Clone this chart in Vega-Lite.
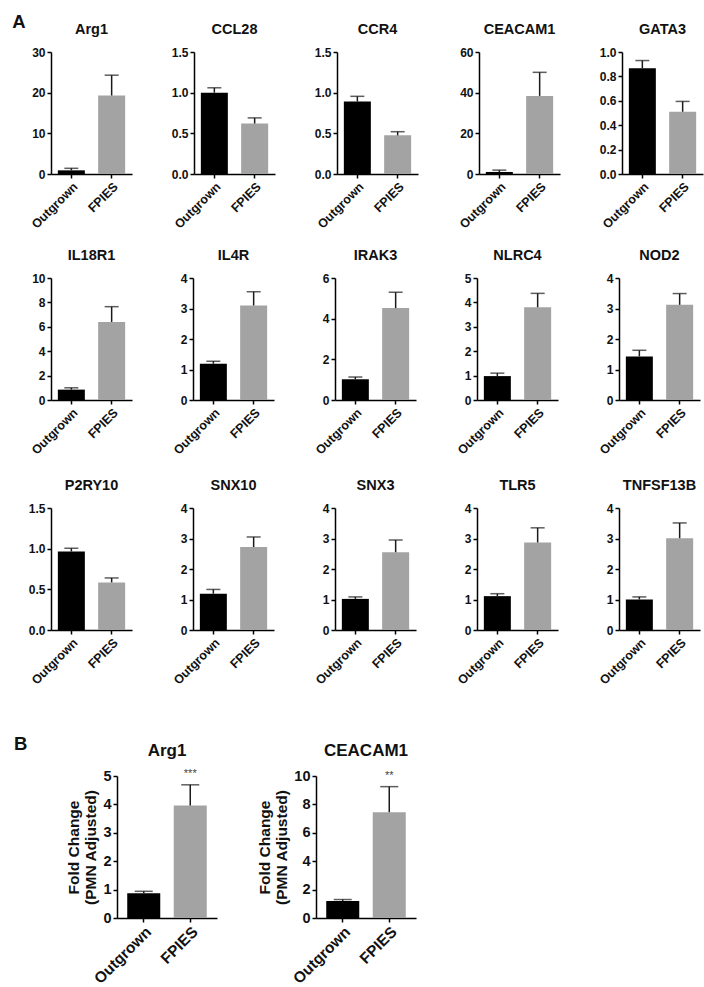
{
"$schema": "https://vega.github.io/schema/vega-lite/v6.json",
"padding": {"left": 12, "top": 13, "right": 5, "bottom": 5},
"background": "white",
"data": {"values": [
{"set":"A","gene":"Arg1","group":"Outgrown","mean":0.9,"upper":1.4},
{"set":"A","gene":"Arg1","group":"FPIES","mean":19.3,"upper":24.3},
{"set":"A","gene":"CCL28","group":"Outgrown","mean":1.0,"upper":1.06},
{"set":"A","gene":"CCL28","group":"FPIES","mean":0.62,"upper":0.69},
{"set":"A","gene":"CCR4","group":"Outgrown","mean":0.89,"upper":0.955},
{"set":"A","gene":"CCR4","group":"FPIES","mean":0.475,"upper":0.52},
{"set":"A","gene":"CEACAM1","group":"Outgrown","mean":1.0,"upper":1.9},
{"set":"A","gene":"CEACAM1","group":"FPIES","mean":38.4,"upper":50},
{"set":"A","gene":"GATA3","group":"Outgrown","mean":0.866,"upper":0.93},
{"set":"A","gene":"GATA3","group":"FPIES","mean":0.51,"upper":0.595},
{"set":"A","gene":"IL18R1","group":"Outgrown","mean":0.85,"upper":1.0},
{"set":"A","gene":"IL18R1","group":"FPIES","mean":6.4,"upper":7.65},
{"set":"A","gene":"IL4R","group":"Outgrown","mean":1.19,"upper":1.27},
{"set":"A","gene":"IL4R","group":"FPIES","mean":3.1,"upper":3.55},
{"set":"A","gene":"IRAK3","group":"Outgrown","mean":1.02,"upper":1.13},
{"set":"A","gene":"IRAK3","group":"FPIES","mean":4.52,"upper":5.3},
{"set":"A","gene":"NLRC4","group":"Outgrown","mean":0.98,"upper":1.1},
{"set":"A","gene":"NLRC4","group":"FPIES","mean":3.8,"upper":4.37},
{"set":"A","gene":"NOD2","group":"Outgrown","mean":1.43,"upper":1.63},
{"set":"A","gene":"NOD2","group":"FPIES","mean":3.12,"upper":3.49},
{"set":"A","gene":"P2RY10","group":"Outgrown","mean":0.965,"upper":1.005},
{"set":"A","gene":"P2RY10","group":"FPIES","mean":0.585,"upper":0.64},
{"set":"A","gene":"SNX10","group":"Outgrown","mean":1.19,"upper":1.33},
{"set":"A","gene":"SNX10","group":"FPIES","mean":2.72,"upper":3.05},
{"set":"A","gene":"SNX3","group":"Outgrown","mean":1.02,"upper":1.085},
{"set":"A","gene":"SNX3","group":"FPIES","mean":2.55,"upper":2.95},
{"set":"A","gene":"TLR5","group":"Outgrown","mean":1.11,"upper":1.19},
{"set":"A","gene":"TLR5","group":"FPIES","mean":2.87,"upper":3.35},
{"set":"A","gene":"TNFSF13B","group":"Outgrown","mean":1.0,"upper":1.085},
{"set":"A","gene":"TNFSF13B","group":"FPIES","mean":3.01,"upper":3.51},
{"set":"B","gene":"Arg1","group":"Outgrown","mean":0.87,"upper":0.94,"sig":""},
{"set":"B","gene":"Arg1","group":"FPIES","mean":3.96,"upper":4.69,"sig":"***"},
{"set":"B","gene":"CEACAM1","group":"Outgrown","mean":1.2,"upper":1.3,"sig":""},
{"set":"B","gene":"CEACAM1","group":"FPIES","mean":7.45,"upper":9.25,"sig":"**"}
]},
"spacing": 48,
"vconcat": [
{
"title": {"text": "A", "anchor": "start", "fontSize": 18.5, "dx": -16, "offset": -10},
"spacing": 20,
"vconcat": [
{"spacing": 16, "vconcat": [
{"spacing": 39, "hconcat": [
{"title":"Arg1","width":81,"height":122,"transform":[{"filter":"datum.set==='A' && datum.gene==='Arg1'"}],
"encoding":{"x":{"field":"group","type":"nominal","sort":["Outgrown","FPIES"],"title":null,"scale":{"paddingInner":0.33,"paddingOuter":0.17}}},
"layer":[
{"mark":{"type":"bar"},"encoding":{"y":{"field":"mean","type":"quantitative","title":null,"scale":{"domain":[0,30],"nice":false},"axis":{"values":[0,10,20,30],"tickCount":20,"format":"d","labelOverlap":false}},"color":{"field":"group","type":"nominal","scale":{"domain":["Outgrown","FPIES"],"range":["#000000","#a3a3a3"]},"legend":null}}},
{"mark":{"type":"rule","color":"#1a1a1a","strokeWidth":1.5},"encoding":{"y":{"field":"mean","type":"quantitative","title":null},"y2":{"field":"upper"}}},
{"mark":{"type":"tick","color":"#1a1a1a","thickness":1.5,"size":14},"encoding":{"y":{"field":"upper","type":"quantitative","title":null}}}]},
{"title":"CCL28","width":81,"height":122,"transform":[{"filter":"datum.set==='A' && datum.gene==='CCL28'"}],
"encoding":{"x":{"field":"group","type":"nominal","sort":["Outgrown","FPIES"],"title":null,"scale":{"paddingInner":0.33,"paddingOuter":0.17}}},
"layer":[
{"mark":{"type":"bar"},"encoding":{"y":{"field":"mean","type":"quantitative","title":null,"scale":{"domain":[0,1.5],"nice":false},"axis":{"values":[0,0.5,1,1.5],"tickCount":20,"format":".1f","labelOverlap":false}},"color":{"field":"group","type":"nominal","scale":{"domain":["Outgrown","FPIES"],"range":["#000000","#a3a3a3"]},"legend":null}}},
{"mark":{"type":"rule","color":"#1a1a1a","strokeWidth":1.5},"encoding":{"y":{"field":"mean","type":"quantitative","title":null},"y2":{"field":"upper"}}},
{"mark":{"type":"tick","color":"#1a1a1a","thickness":1.5,"size":14},"encoding":{"y":{"field":"upper","type":"quantitative","title":null}}}]},
{"title":"CCR4","width":81,"height":122,"transform":[{"filter":"datum.set==='A' && datum.gene==='CCR4'"}],
"encoding":{"x":{"field":"group","type":"nominal","sort":["Outgrown","FPIES"],"title":null,"scale":{"paddingInner":0.33,"paddingOuter":0.17}}},
"layer":[
{"mark":{"type":"bar"},"encoding":{"y":{"field":"mean","type":"quantitative","title":null,"scale":{"domain":[0,1.5],"nice":false},"axis":{"values":[0,0.5,1,1.5],"tickCount":20,"format":".1f","labelOverlap":false}},"color":{"field":"group","type":"nominal","scale":{"domain":["Outgrown","FPIES"],"range":["#000000","#a3a3a3"]},"legend":null}}},
{"mark":{"type":"rule","color":"#1a1a1a","strokeWidth":1.5},"encoding":{"y":{"field":"mean","type":"quantitative","title":null},"y2":{"field":"upper"}}},
{"mark":{"type":"tick","color":"#1a1a1a","thickness":1.5,"size":14},"encoding":{"y":{"field":"upper","type":"quantitative","title":null}}}]},
{"title":"CEACAM1","width":81,"height":122,"transform":[{"filter":"datum.set==='A' && datum.gene==='CEACAM1'"}],
"encoding":{"x":{"field":"group","type":"nominal","sort":["Outgrown","FPIES"],"title":null,"scale":{"paddingInner":0.33,"paddingOuter":0.17}}},
"layer":[
{"mark":{"type":"bar"},"encoding":{"y":{"field":"mean","type":"quantitative","title":null,"scale":{"domain":[0,60],"nice":false},"axis":{"values":[0,20,40,60],"tickCount":20,"format":"d","labelOverlap":false}},"color":{"field":"group","type":"nominal","scale":{"domain":["Outgrown","FPIES"],"range":["#000000","#a3a3a3"]},"legend":null}}},
{"mark":{"type":"rule","color":"#1a1a1a","strokeWidth":1.5},"encoding":{"y":{"field":"mean","type":"quantitative","title":null},"y2":{"field":"upper"}}},
{"mark":{"type":"tick","color":"#1a1a1a","thickness":1.5,"size":14},"encoding":{"y":{"field":"upper","type":"quantitative","title":null}}}]},
{"title":"GATA3","width":81,"height":122,"transform":[{"filter":"datum.set==='A' && datum.gene==='GATA3'"}],
"encoding":{"x":{"field":"group","type":"nominal","sort":["Outgrown","FPIES"],"title":null,"scale":{"paddingInner":0.33,"paddingOuter":0.17}}},
"layer":[
{"mark":{"type":"bar"},"encoding":{"y":{"field":"mean","type":"quantitative","title":null,"scale":{"domain":[0,1],"nice":false},"axis":{"values":[0,0.2,0.4,0.6,0.8,1],"tickCount":20,"format":".1f","labelOverlap":false}},"color":{"field":"group","type":"nominal","scale":{"domain":["Outgrown","FPIES"],"range":["#000000","#a3a3a3"]},"legend":null}}},
{"mark":{"type":"rule","color":"#1a1a1a","strokeWidth":1.5},"encoding":{"y":{"field":"mean","type":"quantitative","title":null},"y2":{"field":"upper"}}},
{"mark":{"type":"tick","color":"#1a1a1a","thickness":1.5,"size":14},"encoding":{"y":{"field":"upper","type":"quantitative","title":null}}}]}
]},
{"spacing": 39, "hconcat": [
{"title":"IL18R1","width":81,"height":122,"transform":[{"filter":"datum.set==='A' && datum.gene==='IL18R1'"}],
"encoding":{"x":{"field":"group","type":"nominal","sort":["Outgrown","FPIES"],"title":null,"scale":{"paddingInner":0.33,"paddingOuter":0.17}}},
"layer":[
{"mark":{"type":"bar"},"encoding":{"y":{"field":"mean","type":"quantitative","title":null,"scale":{"domain":[0,10],"nice":false},"axis":{"values":[0,2,4,6,8,10],"tickCount":20,"format":"d","labelOverlap":false}},"color":{"field":"group","type":"nominal","scale":{"domain":["Outgrown","FPIES"],"range":["#000000","#a3a3a3"]},"legend":null}}},
{"mark":{"type":"rule","color":"#1a1a1a","strokeWidth":1.5},"encoding":{"y":{"field":"mean","type":"quantitative","title":null},"y2":{"field":"upper"}}},
{"mark":{"type":"tick","color":"#1a1a1a","thickness":1.5,"size":14},"encoding":{"y":{"field":"upper","type":"quantitative","title":null}}}]},
{"title":"IL4R","width":81,"height":122,"transform":[{"filter":"datum.set==='A' && datum.gene==='IL4R'"}],
"encoding":{"x":{"field":"group","type":"nominal","sort":["Outgrown","FPIES"],"title":null,"scale":{"paddingInner":0.33,"paddingOuter":0.17}}},
"layer":[
{"mark":{"type":"bar"},"encoding":{"y":{"field":"mean","type":"quantitative","title":null,"scale":{"domain":[0,4],"nice":false},"axis":{"values":[0,1,2,3,4],"tickCount":20,"format":"d","labelOverlap":false}},"color":{"field":"group","type":"nominal","scale":{"domain":["Outgrown","FPIES"],"range":["#000000","#a3a3a3"]},"legend":null}}},
{"mark":{"type":"rule","color":"#1a1a1a","strokeWidth":1.5},"encoding":{"y":{"field":"mean","type":"quantitative","title":null},"y2":{"field":"upper"}}},
{"mark":{"type":"tick","color":"#1a1a1a","thickness":1.5,"size":14},"encoding":{"y":{"field":"upper","type":"quantitative","title":null}}}]},
{"title":"IRAK3","width":81,"height":122,"transform":[{"filter":"datum.set==='A' && datum.gene==='IRAK3'"}],
"encoding":{"x":{"field":"group","type":"nominal","sort":["Outgrown","FPIES"],"title":null,"scale":{"paddingInner":0.33,"paddingOuter":0.17}}},
"layer":[
{"mark":{"type":"bar"},"encoding":{"y":{"field":"mean","type":"quantitative","title":null,"scale":{"domain":[0,6],"nice":false},"axis":{"values":[0,2,4,6],"tickCount":20,"format":"d","labelOverlap":false}},"color":{"field":"group","type":"nominal","scale":{"domain":["Outgrown","FPIES"],"range":["#000000","#a3a3a3"]},"legend":null}}},
{"mark":{"type":"rule","color":"#1a1a1a","strokeWidth":1.5},"encoding":{"y":{"field":"mean","type":"quantitative","title":null},"y2":{"field":"upper"}}},
{"mark":{"type":"tick","color":"#1a1a1a","thickness":1.5,"size":14},"encoding":{"y":{"field":"upper","type":"quantitative","title":null}}}]},
{"title":"NLRC4","width":81,"height":122,"transform":[{"filter":"datum.set==='A' && datum.gene==='NLRC4'"}],
"encoding":{"x":{"field":"group","type":"nominal","sort":["Outgrown","FPIES"],"title":null,"scale":{"paddingInner":0.33,"paddingOuter":0.17}}},
"layer":[
{"mark":{"type":"bar"},"encoding":{"y":{"field":"mean","type":"quantitative","title":null,"scale":{"domain":[0,5],"nice":false},"axis":{"values":[0,1,2,3,4,5],"tickCount":20,"format":"d","labelOverlap":false}},"color":{"field":"group","type":"nominal","scale":{"domain":["Outgrown","FPIES"],"range":["#000000","#a3a3a3"]},"legend":null}}},
{"mark":{"type":"rule","color":"#1a1a1a","strokeWidth":1.5},"encoding":{"y":{"field":"mean","type":"quantitative","title":null},"y2":{"field":"upper"}}},
{"mark":{"type":"tick","color":"#1a1a1a","thickness":1.5,"size":14},"encoding":{"y":{"field":"upper","type":"quantitative","title":null}}}]},
{"title":"NOD2","width":81,"height":122,"transform":[{"filter":"datum.set==='A' && datum.gene==='NOD2'"}],
"encoding":{"x":{"field":"group","type":"nominal","sort":["Outgrown","FPIES"],"title":null,"scale":{"paddingInner":0.33,"paddingOuter":0.17}}},
"layer":[
{"mark":{"type":"bar"},"encoding":{"y":{"field":"mean","type":"quantitative","title":null,"scale":{"domain":[0,4],"nice":false},"axis":{"values":[0,1,2,3,4],"tickCount":20,"format":"d","labelOverlap":false}},"color":{"field":"group","type":"nominal","scale":{"domain":["Outgrown","FPIES"],"range":["#000000","#a3a3a3"]},"legend":null}}},
{"mark":{"type":"rule","color":"#1a1a1a","strokeWidth":1.5},"encoding":{"y":{"field":"mean","type":"quantitative","title":null},"y2":{"field":"upper"}}},
{"mark":{"type":"tick","color":"#1a1a1a","thickness":1.5,"size":14},"encoding":{"y":{"field":"upper","type":"quantitative","title":null}}}]}
]}
]},
{"spacing": 39, "hconcat": [
{"title":"P2RY10","width":81,"height":122,"transform":[{"filter":"datum.set==='A' && datum.gene==='P2RY10'"}],
"encoding":{"x":{"field":"group","type":"nominal","sort":["Outgrown","FPIES"],"title":null,"scale":{"paddingInner":0.33,"paddingOuter":0.17}}},
"layer":[
{"mark":{"type":"bar"},"encoding":{"y":{"field":"mean","type":"quantitative","title":null,"scale":{"domain":[0,1.5],"nice":false},"axis":{"values":[0,0.5,1,1.5],"tickCount":20,"format":".1f","labelOverlap":false}},"color":{"field":"group","type":"nominal","scale":{"domain":["Outgrown","FPIES"],"range":["#000000","#a3a3a3"]},"legend":null}}},
{"mark":{"type":"rule","color":"#1a1a1a","strokeWidth":1.5},"encoding":{"y":{"field":"mean","type":"quantitative","title":null},"y2":{"field":"upper"}}},
{"mark":{"type":"tick","color":"#1a1a1a","thickness":1.5,"size":14},"encoding":{"y":{"field":"upper","type":"quantitative","title":null}}}]},
{"title":"SNX10","width":81,"height":122,"transform":[{"filter":"datum.set==='A' && datum.gene==='SNX10'"}],
"encoding":{"x":{"field":"group","type":"nominal","sort":["Outgrown","FPIES"],"title":null,"scale":{"paddingInner":0.33,"paddingOuter":0.17}}},
"layer":[
{"mark":{"type":"bar"},"encoding":{"y":{"field":"mean","type":"quantitative","title":null,"scale":{"domain":[0,4],"nice":false},"axis":{"values":[0,1,2,3,4],"tickCount":20,"format":"d","labelOverlap":false}},"color":{"field":"group","type":"nominal","scale":{"domain":["Outgrown","FPIES"],"range":["#000000","#a3a3a3"]},"legend":null}}},
{"mark":{"type":"rule","color":"#1a1a1a","strokeWidth":1.5},"encoding":{"y":{"field":"mean","type":"quantitative","title":null},"y2":{"field":"upper"}}},
{"mark":{"type":"tick","color":"#1a1a1a","thickness":1.5,"size":14},"encoding":{"y":{"field":"upper","type":"quantitative","title":null}}}]},
{"title":"SNX3","width":81,"height":122,"transform":[{"filter":"datum.set==='A' && datum.gene==='SNX3'"}],
"encoding":{"x":{"field":"group","type":"nominal","sort":["Outgrown","FPIES"],"title":null,"scale":{"paddingInner":0.33,"paddingOuter":0.17}}},
"layer":[
{"mark":{"type":"bar"},"encoding":{"y":{"field":"mean","type":"quantitative","title":null,"scale":{"domain":[0,4],"nice":false},"axis":{"values":[0,1,2,3,4],"tickCount":20,"format":"d","labelOverlap":false}},"color":{"field":"group","type":"nominal","scale":{"domain":["Outgrown","FPIES"],"range":["#000000","#a3a3a3"]},"legend":null}}},
{"mark":{"type":"rule","color":"#1a1a1a","strokeWidth":1.5},"encoding":{"y":{"field":"mean","type":"quantitative","title":null},"y2":{"field":"upper"}}},
{"mark":{"type":"tick","color":"#1a1a1a","thickness":1.5,"size":14},"encoding":{"y":{"field":"upper","type":"quantitative","title":null}}}]},
{"title":"TLR5","width":81,"height":122,"transform":[{"filter":"datum.set==='A' && datum.gene==='TLR5'"}],
"encoding":{"x":{"field":"group","type":"nominal","sort":["Outgrown","FPIES"],"title":null,"scale":{"paddingInner":0.33,"paddingOuter":0.17}}},
"layer":[
{"mark":{"type":"bar"},"encoding":{"y":{"field":"mean","type":"quantitative","title":null,"scale":{"domain":[0,4],"nice":false},"axis":{"values":[0,1,2,3,4],"tickCount":20,"format":"d","labelOverlap":false}},"color":{"field":"group","type":"nominal","scale":{"domain":["Outgrown","FPIES"],"range":["#000000","#a3a3a3"]},"legend":null}}},
{"mark":{"type":"rule","color":"#1a1a1a","strokeWidth":1.5},"encoding":{"y":{"field":"mean","type":"quantitative","title":null},"y2":{"field":"upper"}}},
{"mark":{"type":"tick","color":"#1a1a1a","thickness":1.5,"size":14},"encoding":{"y":{"field":"upper","type":"quantitative","title":null}}}]},
{"title":"TNFSF13B","width":81,"height":122,"transform":[{"filter":"datum.set==='A' && datum.gene==='TNFSF13B'"}],
"encoding":{"x":{"field":"group","type":"nominal","sort":["Outgrown","FPIES"],"title":null,"scale":{"paddingInner":0.33,"paddingOuter":0.17}}},
"layer":[
{"mark":{"type":"bar"},"encoding":{"y":{"field":"mean","type":"quantitative","title":null,"scale":{"domain":[0,4],"nice":false},"axis":{"values":[0,1,2,3,4],"tickCount":20,"format":"d","labelOverlap":false}},"color":{"field":"group","type":"nominal","scale":{"domain":["Outgrown","FPIES"],"range":["#000000","#a3a3a3"]},"legend":null}}},
{"mark":{"type":"rule","color":"#1a1a1a","strokeWidth":1.5},"encoding":{"y":{"field":"mean","type":"quantitative","title":null},"y2":{"field":"upper"}}},
{"mark":{"type":"tick","color":"#1a1a1a","thickness":1.5,"size":14},"encoding":{"y":{"field":"upper","type":"quantitative","title":null}}}]}
]}
]
},
{
"title": {"text": "B", "anchor": "start", "fontSize": 18.5, "dx": -37, "offset": -12},
"spacing": 0,
"hconcat": [
{"width": 15, "height": 142, "transform": [{"filter": "false"}], "mark": {"type": "point", "opacity": 0}, "encoding": {}},
{"spacing": 40, "hconcat": [
{"title":{"text":"Arg1","fontSize":17,"offset":8},"width":100,"height":142,"transform":[{"filter":"datum.set==='B' && datum.gene==='Arg1'"}],
"encoding":{"x":{"field":"group","type":"nominal","sort":["Outgrown","FPIES"],"title":null,"scale":{"paddingInner":0.29,"paddingOuter":0.22},"axis":{"labelFontSize":15.5}}},
"layer":[
{"mark":{"type":"bar"},"encoding":{"y":{"field":"mean","type":"quantitative","title":["Fold Change","(PMN Adjusted)"],"scale":{"domain":[0,5],"nice":false},"axis":{"values":[0,1,2,3,4,5],"tickCount":20,"format":"d","labelOverlap":false,"labelFontSize":14.5,"titleFontSize":15.5,"titlePadding":4}},"color":{"field":"group","type":"nominal","scale":{"domain":["Outgrown","FPIES"],"range":["#000000","#a3a3a3"]},"legend":null}}},
{"mark":{"type":"rule","color":"#1a1a1a","strokeWidth":1.5},"encoding":{"y":{"field":"mean","type":"quantitative","title":["Fold Change","(PMN Adjusted)"]},"y2":{"field":"upper"}}},
{"mark":{"type":"tick","color":"#1a1a1a","thickness":1.5,"size":18},"encoding":{"y":{"field":"upper","type":"quantitative","title":["Fold Change","(PMN Adjusted)"]}}},
{"mark":{"type":"text","color":"#444444","fontSize":11,"baseline":"bottom","dy":-6},"encoding":{"y":{"field":"upper","type":"quantitative","title":["Fold Change","(PMN Adjusted)"]},"text":{"field":"sig"}}}]},
{"title":{"text":"CEACAM1","fontSize":17,"offset":8},"width":100,"height":142,"transform":[{"filter":"datum.set==='B' && datum.gene==='CEACAM1'"}],
"encoding":{"x":{"field":"group","type":"nominal","sort":["Outgrown","FPIES"],"title":null,"scale":{"paddingInner":0.29,"paddingOuter":0.22},"axis":{"labelFontSize":15.5}}},
"layer":[
{"mark":{"type":"bar"},"encoding":{"y":{"field":"mean","type":"quantitative","title":["Fold Change","(PMN Adjusted)"],"scale":{"domain":[0,10],"nice":false},"axis":{"values":[0,2,4,6,8,10],"tickCount":20,"format":"d","labelOverlap":false,"labelFontSize":14.5,"titleFontSize":15.5,"titlePadding":4}},"color":{"field":"group","type":"nominal","scale":{"domain":["Outgrown","FPIES"],"range":["#000000","#a3a3a3"]},"legend":null}}},
{"mark":{"type":"rule","color":"#1a1a1a","strokeWidth":1.5},"encoding":{"y":{"field":"mean","type":"quantitative","title":["Fold Change","(PMN Adjusted)"]},"y2":{"field":"upper"}}},
{"mark":{"type":"tick","color":"#1a1a1a","thickness":1.5,"size":18},"encoding":{"y":{"field":"upper","type":"quantitative","title":["Fold Change","(PMN Adjusted)"]}}},
{"mark":{"type":"text","color":"#444444","fontSize":11,"baseline":"bottom","dy":-6},"encoding":{"y":{"field":"upper","type":"quantitative","title":["Fold Change","(PMN Adjusted)"]},"text":{"field":"sig"}}}]}
]}
]
}
],
"config": {
"view": {"stroke": null},
"font": "Liberation Sans",
"axis": {"domainColor":"#000000","domainWidth":1.5,"tickColor":"#000000","tickWidth":1.5,"tickSize":4,"labelFont":"Liberation Sans","labelFontWeight":"bold","labelFontSize":12,"labelColor":"#111111","grid":false,"titleFont":"Liberation Sans","titleFontWeight":"bold","titleColor":"#111111","labelPadding":2,"labelOverlap":false},
"axisX": {"labelAngle":-45,"labelFontSize":12.5},
"title": {"font":"Liberation Sans","fontWeight":"bold","fontSize":14.5,"color":"#111111","offset":9}
}
}
